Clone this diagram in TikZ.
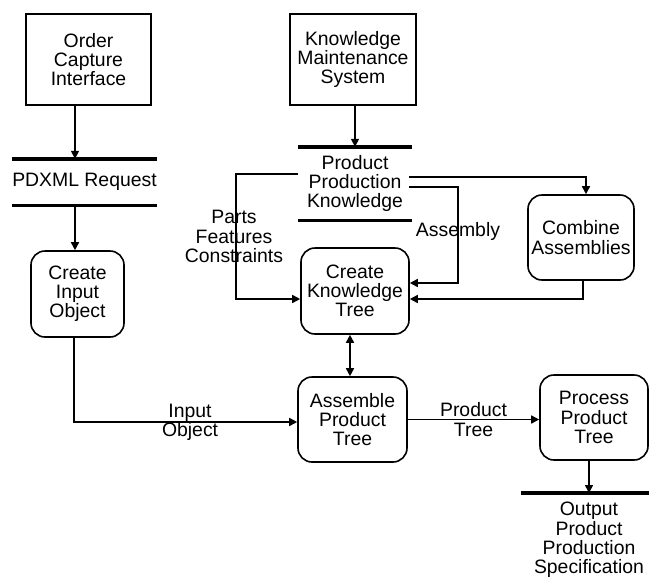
\documentclass[tikz,border=0pt]{standalone}
\usepackage{fontspec}
\setmainfont{Liberation Sans}
\usetikzlibrary{arrows.meta}
\begin{document}
\begin{tikzpicture}[x=1pt,y=-1pt,
  every node/.style={font=\fontsize{19.4}{19.2}\selectfont, align=center, inner sep=0pt},
  extern/.style={draw, line width=1.6pt, minimum width=#1},
  process/.style={draw, line width=1.6pt, rounded corners=14pt, minimum width=#1},
  store/.style={minimum width=#1},
  storeline/.style={line width=3.4pt},
  flow/.style={line width=1.6pt, -{Triangle[length=8pt,width=8pt]}},
  twoway/.style={line width=1.6pt, {Triangle[length=8pt,width=8pt]}-{Triangle[length=8pt,width=8pt]}}
]
\useasboundingbox (0,0) rectangle (649,582);

% external entities
\node[extern=125pt, minimum height=91pt] (oci) at (88.5,59.5) {Order\\Capture\\Interface};
\node[extern=126pt, minimum height=91pt] (kms) at (353,59.5) {Knowledge\\Maintenance\\System};

% data stores
\node[store=145pt, minimum height=46pt] (pd) at (84.5,182) {PDXML Request};
\draw[storeline] (pd.north west) -- (pd.north east);
\draw[storeline] (pd.south west) -- (pd.south east);

\node[store=114pt, minimum height=73pt] (ppk) at (355,183.5) {Product\\Production\\Knowledge};
\draw[storeline] (ppk.north west) -- (ppk.north east);
\draw[storeline] (ppk.south west) -- (ppk.south east);

\coordinate (outL) at (521,493);
\coordinate (outR) at (652,493);
\draw[storeline] (outL) -- (outR);
\node (out) at (589,540) {Output\\Product\\Production\\Specification};

% processes
\node[process=93pt, minimum height=86pt] (cio) at (77.5,294) {Create\\Input\\Object};
\node[process=108pt, minimum height=86pt] (ckt) at (355,291) {Create\\Knowledge\\Tree};
\node[process=106pt, minimum height=85pt] (ca) at (581,237.5) {Combine\\Assemblies};
\node[process=109pt, minimum height=85pt] (apt) at (352.5,419.5) {Assemble\\Product\\Tree};
\node[process=108pt, minimum height=85pt] (ppt) at (594,417.5) {Process\\Product\\Tree};

% bends of the knowledge flows
\coordinate (pbend) at (236,174);
\coordinate (abend) at (458,187);

% flows
\draw[flow] ([xshift=-13.5pt]oci.south) -- ([xshift=-13.5pt]oci.south |- pd.north);
\draw[flow] ([xshift=-9.5pt]pd.south) -- ([xshift=-9.5pt]pd.south |- cio.north);
\draw[flow] ([xshift=-3.5pt]cio.south) |- node[pos=0.76]{Input\\Object} ([yshift=-2.5pt]apt.west);

\draw[flow] (kms.south -| ppk.north) -- (ppk.north);
\draw[flow] ([yshift=9.5pt]ppk.west) -- (pbend) |- node[pos=0.25, xshift=-2pt]{Parts\\Features\\Constraints} ([yshift=-8pt]ckt.west);
\draw[flow] ([xshift=-3pt,yshift=-3.5pt]ppk.east) -- (abend) |- node[pos=0.23]{Assembly} ([yshift=8pt]ckt.east);
\draw[flow] ([xshift=-3pt,yshift=6.5pt]ppk.east) -| ([xshift=5pt]ca.north);
\draw[flow] ([xshift=2pt]ca.south) |- ([yshift=-8pt]ckt.east);

\draw[twoway] ([xshift=-5pt]ckt.south) -- ([xshift=-5pt]ckt.south |- apt.north);
\draw[flow] (apt.east) -- node{Product\\Tree} (apt.east -| ppt.west);
\draw[flow] ([xshift=-5pt]ppt.south) -- ([xshift=-5pt]ppt.south |- outL);
\end{tikzpicture}
\end{document}
